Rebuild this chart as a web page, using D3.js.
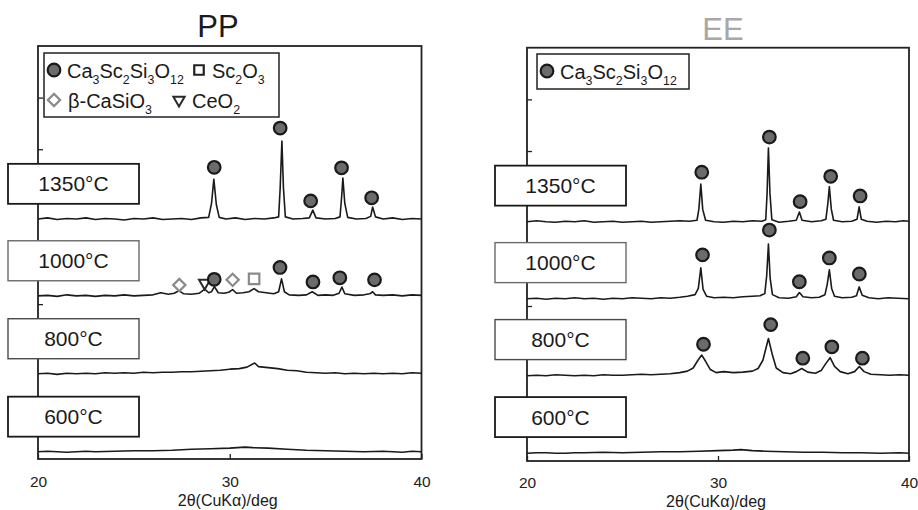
<!DOCTYPE html>
<html>
<head>
<meta charset="utf-8">
<script src="https://cdn.jsdelivr.net/npm/d3@7"></script>
<style>
  body { margin: 0; background: #fff; }
  svg { display: block; }
</style>
</head>
<body>
<svg id="chart" width="918" height="510"></svg>
<script>
// ---- data ----
const panelTitles = ["PP", "EE"];
const tempLabels = ["1350°C", "1000°C", "800°C", "600°C"];
const xTicks = [20, 30, 40];
const yTicks = [100, 200, 300, 400, 500, 600, 700];
const xTitle = "2θ(CuKα)/deg";

// vertical offset of each trace (same units as the intensities)
const offsetsPP = [465, 316, 165, 14];
const offsetsEE = [463, 314, 165, 15];

// [2θ, intensity above the trace baseline]
const pp1350 = [[20,0],[20.5,2],[21,-1],[21.5,1],[22,0],[22.5,2],[23,-1],[23.5,1],[24,0],[24.5,-2],[25,1],[25.5,0],[26,2],[26.5,-1],[27,0],[27.5,1],[28,-1],[28.5,2],[28.9,3],[29.05,30],[29.17,77],[29.3,28],[29.45,3],[29.8,0],[30.3,2],[30.8,-1],[31.3,1],[31.8,0],[32.3,2],[32.55,4],[32.63,60],[32.72,151],[32.8,60],[32.9,4],[33.3,0],[33.8,1],[34.15,2],[34.33,17],[34.5,2],[35,0],[35.5,1],[35.75,4],[35.83,40],[35.9,79],[36.0,30],[36.15,3],[36.6,0],[37.1,1],[37.35,5],[37.45,23],[37.6,4],[38,0],[38.5,2],[39,-1],[39.5,1],[40,0]];
const pp1000 = [[20,0],[20.5,1],[21,-1],[21.5,2],[22,0],[22.5,1],[23,-1],[23.5,1],[24,0],[24.5,2],[25,0],[25.5,1],[26,2],[26.4,6],[26.8,3],[27.1,5],[27.35,10],[27.6,4],[28,3],[28.4,5],[28.7,13],[28.9,6],[29.05,8],[29.2,18],[29.4,6],[29.7,5],[29.95,7],[30.15,12],[30.35,5],[30.7,6],[31.0,8],[31.27,14],[31.5,8],[31.9,6],[32.3,4],[32.55,8],[32.7,33],[32.85,8],[33.1,2],[33.6,1],[34.0,2],[34.3,8],[34.6,1],[35.0,2],[35.4,1],[35.7,5],[35.85,17],[36.0,4],[36.5,1],[37.0,2],[37.3,4],[37.45,8],[37.6,2],[38,1],[38.5,2],[39,0],[39.5,2],[40,1]];
const pp800 = [[20,0],[20.5,1],[21,-1],[21.5,1],[22,0],[22.5,1],[23,0],[23.5,2],[24,1],[24.5,2],[25,1],[25.5,3],[26,2],[26.5,3],[27,3],[27.5,4],[28,4],[28.5,5],[29,6],[29.5,7],[30,9],[30.5,10],[30.9,13],[31.3,21],[31.5,14],[32,12],[32.5,10],[33,7],[33.5,6],[34,3],[34.5,2],[35,1],[35.5,2],[36,0],[36.5,1],[37,0],[37.5,1],[38,0],[38.5,1],[39,0],[39.5,2],[40,1]];
const pp600 = [[20,0],[20.5,1],[21,0],[21.5,-1],[22,0],[22.5,1],[23,0],[24,1],[25,2],[26,2],[27,3],[28,5],[29,6],[30,7],[30.8,9],[31.2,8],[32,7],[33,5],[34,3],[35,2],[36,1],[37,0],[38,1],[39,-1],[39.5,1],[40,0]];

const ee1350 = [[20,0],[20.5,2],[21,0],[21.5,-1],[22,1],[22.5,0],[23,2],[23.5,-1],[24,0],[24.5,1],[25,-1],[25.5,0],[26,1],[26.5,-1],[27,0],[27.5,1],[28,2],[28.5,1],[28.9,3],[29.0,25],[29.1,73],[29.2,24],[29.35,3],[29.8,0],[30.3,-1],[30.8,1],[31.3,0],[31.8,2],[32.3,1],[32.5,4],[32.57,55],[32.64,143],[32.72,55],[32.82,4],[33.2,-1],[33.7,1],[34.1,3],[34.26,19],[34.4,3],[34.9,0],[35.4,2],[35.65,5],[35.75,35],[35.83,68],[35.93,25],[36.05,3],[36.5,0],[37.0,1],[37.28,5],[37.39,29],[37.5,5],[37.8,1],[38.3,-1],[38.8,1],[39.3,0],[39.7,2],[40,1]];
const ee1000 = [[20,0],[20.5,1],[21,-1],[21.5,1],[22,0],[22.5,2],[23,0],[23.5,1],[24,-1],[24.5,1],[25,0],[25.5,2],[26,1],[26.5,0],[27,2],[27.5,1],[28,3],[28.4,5],[28.8,8],[28.97,20],[29.1,60],[29.22,18],[29.4,5],[29.8,2],[30.3,3],[30.8,2],[31.3,4],[31.8,5],[32.2,6],[32.45,10],[32.55,45],[32.64,106],[32.73,40],[32.85,8],[33.2,2],[33.7,1],[34.1,4],[34.26,12],[34.45,4],[34.9,2],[35.3,3],[35.6,8],[35.72,28],[35.83,56],[35.95,20],[36.1,5],[36.5,2],[37.0,3],[37.25,6],[37.39,23],[37.55,7],[37.9,2],[38.4,0],[38.9,2],[39.4,1],[40,0]];
const ee800 = [[20,0],[20.5,1],[21,0],[21.5,2],[22,1],[22.5,0],[23,1],[23.5,0],[24,2],[24.5,1],[25,1],[25.5,2],[26,3],[26.5,2],[27,3],[27.5,4],[28,6],[28.4,9],[28.7,15],[28.95,30],[29.15,40],[29.35,28],[29.6,12],[29.9,6],[30.3,8],[30.8,6],[31.3,7],[31.8,9],[32.1,14],[32.35,30],[32.64,72],[32.85,40],[33.05,15],[33.4,6],[33.8,4],[34.1,8],[34.38,14],[34.7,7],[35.1,5],[35.4,10],[35.65,24],[35.87,35],[36.1,18],[36.4,8],[36.8,4],[37.15,8],[37.4,18],[37.65,8],[38.0,3],[38.5,2],[39,1],[39.5,2],[40,1]];
const ee600 = [[20,0],[20.5,1],[21,1],[21.5,0],[22,0],[22.5,1],[23,1],[24,2],[25,1],[26,2],[27,3],[28,3],[29,4],[30,5],[30.8,6],[31.2,7],[31.8,5],[32.5,4],[33.5,3],[34.5,2],[35.5,2],[36.5,1],[37.5,1],[38.5,0],[39.5,1],[40,0]];

// peak markers: [trace index, 2θ, height above baseline, phase]
const markersPP = [
  [0, 29.19, 100, "garnet"], [0, 32.63, 176, "garnet"], [0, 34.22, 35, "garnet"], [0, 35.83, 99, "garnet"], [0, 37.4, 41, "garnet"],
  [1, 27.37, 21, "casio3"], [1, 28.69, 25, "ceo2"], [1, 29.19, 32, "garnet"], [1, 30.15, 31, "casio3"], [1, 31.27, 33, "sc2o3"],
  [1, 32.62, 55, "garnet"], [1, 34.34, 27, "garnet"], [1, 35.74, 35, "garnet"], [1, 37.55, 31, "garnet"]
];
const markersEE = [
  [0, 29.15, 96, "garnet"], [0, 32.69, 164, "garnet"], [0, 34.3, 39, "garnet"], [0, 35.9, 88, "garnet"], [0, 37.44, 50, "garnet"],
  [1, 29.19, 85, "garnet"], [1, 32.69, 133, "garnet"], [1, 34.26, 33, "garnet"], [1, 35.83, 79, "garnet"], [1, 37.4, 48, "garnet"],
  [2, 29.24, 61, "garnet"], [2, 32.76, 99, "garnet"], [2, 34.44, 34, "garnet"], [2, 35.96, 56, "garnet"], [2, 37.56, 34, "garnet"]
];

// legend rows: [phase, formula] (_n = subscript)
const legendPP = [[["garnet", "Ca_3Sc_2Si_3O_12"], ["sc2o3", "Sc_2O_3"]], [["casio3", "β-CaSiO_3"], ["ceo2", "CeO_2"]]];
const legendEE = [[["garnet", "Ca_3Sc_2Si_3O_12"]]];

// ---- layout ----
const FONT = '"Liberation Sans", Arial, Helvetica, sans-serif';
const panels = [
  { title: panelTitles[0], titleColor: "#1a1a1a", titleX: 218, titleY: 36.5,
    x0: 38, x1: 421.5, y0: 46, y1: 459, boxX: 8, boxDy: 68,
    traces: [pp1350, pp1000, pp800, pp600], offsets: offsetsPP, markers: markersPP,
    legend: legendPP, legendBox: [44, 53, 235, 64], legendCols: [0, 145], labelY: 486.5, titleAxisY: 505.5 },
  { title: panelTitles[1], titleColor: "#a8a8a8", titleX: 723, titleY: 39.5,
    x0: 527, x1: 909, y0: 47.7, y1: 461, boxX: 495, boxDy: 70,
    traces: [ee1350, ee1000, ee800, ee600], offsets: offsetsEE, markers: markersEE,
    legend: legendEE, legendBox: [537, 54, 152, 35], legendCols: [0], labelY: 488, titleAxisY: 506.5 }
];
const boxStrokes = ["#1a1a1a", "#6a6a6a", "#4a4a4a", "#1a1a1a"];
const boxW = 131, boxH = 40;

const svg = d3.select("#chart");

// draw one marker symbol centred at (cx, cy)
function drawMarker(g, phase, cx, cy, legend) {
  if (phase === "garnet") {
    g.append("circle").attr("cx", cx).attr("cy", cy).attr("r", 6.3)
      .attr("fill", "#6b6b6b").attr("stroke", "#1a1a1a").attr("stroke-width", 2.2);
  } else if (phase === "sc2o3") {
    g.append("path").attr("d", d3.symbol(d3.symbolSquare, legend ? 90 : 110)())
      .attr("transform", `translate(${cx},${cy})`)
      .attr("fill", "#fff").attr("stroke", legend ? "#222" : "#8a8a8a").attr("stroke-width", 2.2);
  } else if (phase === "casio3") {
    g.append("path").attr("d", d3.symbol(d3.symbolSquare, 75)())
      .attr("transform", `translate(${cx},${cy}) rotate(45)`)
      .attr("fill", "#fff").attr("stroke", "#8a8a8a").attr("stroke-width", 2.2);
  } else if (phase === "ceo2") {
    g.append("path").attr("d", d3.symbol(d3.symbolTriangle, 55)())
      .attr("transform", `translate(${cx},${cy}) rotate(180)`)
      .attr("fill", "none").attr("stroke", "#2a2a2a").attr("stroke-width", 2);
  }
}

// chemical formula with subscripts
function formula(g, str, x, y, size) {
  const t = g.append("text").attr("x", x).attr("y", y)
    .attr("font-family", FONT).attr("font-size", size).attr("fill", "#1a1a1a");
  const parts = str.split(/_(\d+)/);
  const shift = size * 0.3;
  parts.forEach((p, i) => {
    if (!p) return;
    if (i % 2 === 1) {
      t.append("tspan").attr("font-size", size * 0.62).attr("dy", shift).text(p);
    } else {
      t.append("tspan").attr("dy", i > 0 ? -shift : 0).text(p);
    }
  });
}

panels.forEach(p => {
  const g = svg.append("g");
  const x = d3.scaleLinear().domain([20, 40]).range([p.x0, p.x1]);
  const y = d3.scaleLinear().domain([0, 800]).range([p.y1, p.y0]);

  // title
  g.append("text").attr("x", p.titleX).attr("y", p.titleY).attr("text-anchor", "middle")
    .attr("font-family", FONT).attr("font-size", 31).attr("fill", p.titleColor).text(p.title);

  // axes (ticks pointing inward)
  const xAxis = g.append("g").attr("transform", `translate(0,${p.y1})`)
    .call(d3.axisBottom(x).tickValues(xTicks).tickSizeInner(-5).tickSizeOuter(0).tickPadding(16).tickFormat(d3.format("d")));
  xAxis.select(".domain").remove();
  xAxis.selectAll("line").attr("stroke", "#222").attr("stroke-width", 1.3);
  xAxis.selectAll("text").attr("font-family", FONT).attr("font-size", 15.5).attr("fill", "#222")
    .attr("dy", null).attr("y", p.labelY - p.y1);

  const yAxis = g.append("g").attr("transform", `translate(${p.x0},0)`)
    .call(d3.axisLeft(y).tickValues(yTicks).tickSizeInner(-5).tickSizeOuter(0).tickFormat(""));
  yAxis.select(".domain").remove();
  yAxis.selectAll("line").attr("stroke", "#222").attr("stroke-width", 1.3);

  g.append("text").attr("x", (p.x0 + p.x1) / 2 - 2).attr("y", p.titleAxisY).attr("text-anchor", "middle")
    .attr("font-family", FONT).attr("font-size", 16).attr("fill", "#1a1a1a").text(xTitle);

  // frame
  g.append("rect").attr("x", p.x0).attr("y", p.y0).attr("width", p.x1 - p.x0).attr("height", p.y1 - p.y0)
    .attr("fill", "none").attr("stroke", "#222").attr("stroke-width", 1.8);

  // traces
  p.traces.forEach((tr, i) => {
    const off = p.offsets[i];
    const line = d3.line().x(d => x(d[0])).y(d => y(d[1] + off));
    g.append("path").datum(tr).attr("d", line)
      .attr("fill", "none").attr("stroke", "#1a1a1a").attr("stroke-width", 1.6).attr("stroke-linejoin", "round");
  });

  // markers (triangles first so circles overlap them)
  const order = { ceo2: 0, casio3: 1, sc2o3: 1, garnet: 2 };
  p.markers.slice().sort((a, b) => order[a[3]] - order[b[3]]).forEach(m => {
    drawMarker(g, m[3], x(m[1]), y(m[2] + p.offsets[m[0]]), false);
  });

  // temperature boxes
  tempLabels.forEach((lab, i) => {
    const cy = y(p.offsets[i] + p.boxDy);
    g.append("rect").attr("x", p.boxX).attr("y", cy - boxH / 2).attr("width", boxW).attr("height", boxH)
      .attr("fill", "#fff").attr("stroke", boxStrokes[i]).attr("stroke-width", i === 0 || i === 3 ? 1.8 : 1.4);
    g.append("text").attr("x", p.boxX + boxW / 2).attr("y", cy + 7.6).attr("text-anchor", "middle")
      .attr("font-family", FONT).attr("font-size", 21).attr("fill", "#1a1a1a").text(lab);
  });

  // legend
  const [lx, ly, lw, lh] = p.legendBox;
  g.append("rect").attr("x", lx).attr("y", ly).attr("width", lw).attr("height", lh)
    .attr("fill", "#fff").attr("stroke", "#222").attr("stroke-width", 1.5);
  p.legend.forEach((row, r) => {
    const cy = ly + 17 + r * 30;
    row.forEach((item, c) => {
      const sx = lx + 10 + p.legendCols[c] + (c === 1 && r === 1 ? -20 : 0);
      drawMarker(g, item[0], sx, cy, true);
      formula(g, item[1], sx + 13 + (item[0] === "casio3" ? 1 : 0), cy + 8, 20);
    });
  });
});
</script>
</body>
</html>
